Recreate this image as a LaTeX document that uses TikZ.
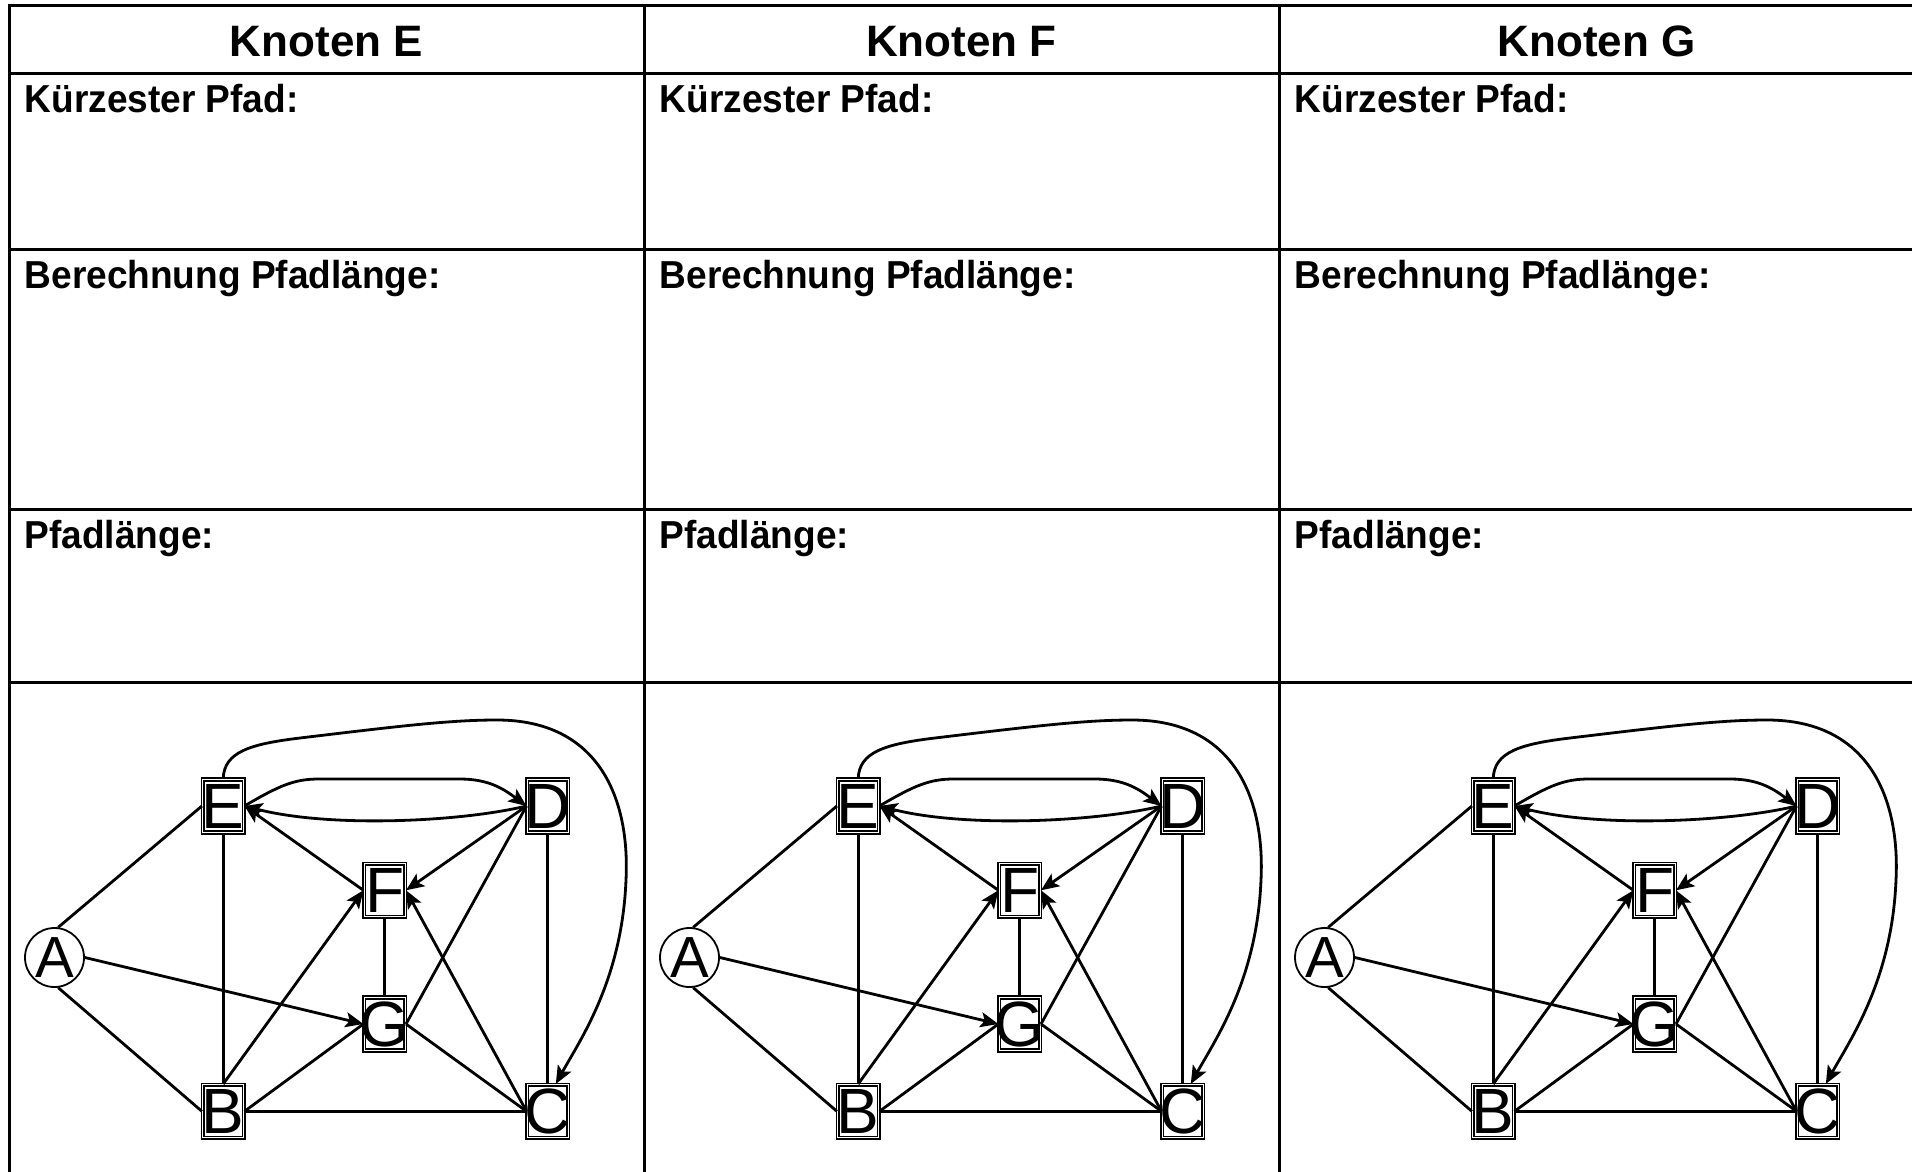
\documentclass[tikz,border=0pt]{standalone}
\usepackage{fontspec}
\setmainfont{Liberation Sans}
\newfontfamily\cellfont[FakeStretch=0.95]{Liberation Sans}
\usetikzlibrary{arrows.meta}
\newcommand\vlab[1]{\makebox[0pt]{#1}}

\begin{document}
\begin{tikzpicture}[x=1pt,y=-1pt,
  grid/.style={line width=3pt, line cap=rect},
  vert/.style={draw, double, line width=1.6pt, double distance=0.9pt,
    minimum width=41pt, minimum height=53pt, inner sep=0pt,
    font=\fontsize{64}{64}\selectfont},
  start/.style={draw, circle, line width=1.8pt, minimum size=59pt, inner sep=0pt,
    font=\fontsize{58}{58}\selectfont},
  edge/.style={line width=2.8pt},
  arr/.style={edge, -{Stealth[length=18pt,width=15pt,inset=4pt]}},
  head/.style={font=\bfseries\fontsize{44}{46}\selectfont, inner sep=0pt, anchor=base},
  cell/.style={font=\cellfont\bfseries\fontsize{39}{42}\selectfont, inner sep=0pt, anchor=base west}]

\useasboundingbox (0,0) rectangle (1912,1172);
\clip (0,0) rectangle (1912,1172);

% table rules
\draw[grid] (9,6) -- (1930,6);
\foreach \y in {74,249,509,682} \draw[grid] (9,\y) -- (1930,\y);
\foreach \x in {9,644,1279} \draw[grid] (\x,6) -- (\x,1200);

\foreach \c/\k in {0/E,1/F,2/G} {
  \begin{scope}[xshift=\c*635pt]
    % row texts
    \node[head] (h\c) at (326.5,57) {Knoten \k};
    \node[cell] (p\c) at (24.5,113) {Kürzester Pfad:};
    \node[cell] (b\c) at (24.5,288) {Berechnung Pfadlänge:};
    \node[cell] (l\c) at (24.5,548) {Pfadlänge:};

    % graph vertices
    \node[start] (A\c) at (54.5,957.5) {A};
    \node[vert] (E\c) at (223.2,806) {\vlab{E}};
    \node[vert] (D\c) at (547.8,806) {\vlab{D}};
    \node[vert] (F\c) at (384.7,890.3) {\vlab{F}};
    \node[vert] (G\c) at (384.7,1024) {\vlab{G}};
    \node[vert] (B\c) at (223.2,1111.3) {\vlab{B}};
    \node[vert] (C\c) at (547.8,1111.3) {\vlab{C}};
    \coordinate (Cin\c) at ([xshift=8pt]C\c.north);

    % undirected edges
    \draw[edge] (A\c.83) -- (E\c.west);
    \draw[edge] (A\c.-83) -- (B\c.west);
    \draw[edge] (E\c.south) -- (B\c.north);
    \draw[edge] (B\c.east) -- (G\c.west);
    \draw[edge] (B\c.east) -- (C\c.west);
    \draw[edge] (F\c.south) -- (G\c.north);
    \draw[edge] (G\c.east) -- (D\c.west);
    \draw[edge] (G\c.east) -- (C\c.west);
    \draw[edge] (D\c.south) -- (C\c.north);

    % directed edges
    \draw[arr] (A\c.east) -- (G\c.west);
    \draw[arr] (B\c.north) -- (F\c.west);
    \draw[arr] (F\c.west) -- (E\c.east);
    \draw[arr] (D\c.west) -- (F\c.east);
    \draw[arr] (C\c.west) -- (F\c.east);
    \draw[arr] (E\c.east) .. controls (280,785) and (295,779) .. (319,779)
      -- (460,779) .. controls (490,779) and (505,790) .. (D\c.west);
    \draw[arr] (D\c.west) .. controls (460,822) and (330,828) .. (E\c.east);
    \draw[arr] (E\c.north) .. controls (224,752) and (250,744) .. (300,738)
      .. controls (400,726) and (450,720) .. (497,720)
      .. controls (600,720) and (630,800) .. (626,880)
      .. controls (622,980) and (580,1040) .. (Cin\c);
  \end{scope}
}
\end{tikzpicture}
\end{document}
